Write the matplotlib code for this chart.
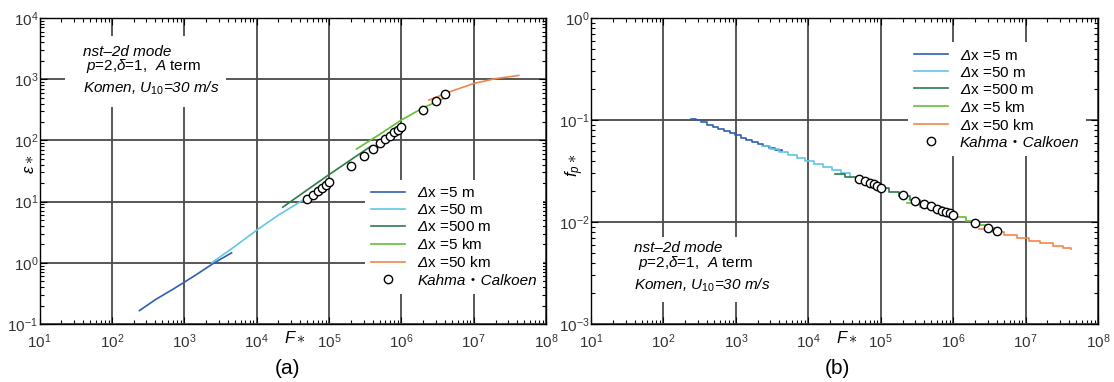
import matplotlib.pyplot as plt
from matplotlib.patches import Rectangle
from matplotlib.ticker import LogLocator, NullFormatter

plt.rcParams['font.family'] = ['Liberation Sans', 'Noto Sans CJK JP', 'DejaVu Sans']
plt.rcParams['mathtext.fontset'] = 'custom'
plt.rcParams['mathtext.rm'] = 'Liberation Sans'
plt.rcParams['mathtext.it'] = 'Liberation Sans:italic'
plt.rcParams['mathtext.bf'] = 'Liberation Sans:bold'
plt.rcParams['mathtext.sf'] = 'Liberation Sans:italic'  # para la Delta en cursiva

# Leyendas / series
etiquetas = [r'$\mathsf{\Delta}$x =5 m', r'$\mathsf{\Delta}$x =50 m', r'$\mathsf{\Delta}$x =500 m',
             r'$\mathsf{\Delta}$x =5 km', r'$\mathsf{\Delta}$x =50 km']
colores = ['#2f5fb0', '#62c6e4', '#2d7a4a', '#62bf35', '#f2864a']

# (a) energia adimensional E* vs F*
F_a = [
    [240, 400, 700, 1000, 1500, 2500, 4500],
    [2400, 5000, 10000, 20000, 45000],
    [23000, 50000, 100000, 200000, 390000],
    [240000, 500000, 1000000, 2000000, 4300000],
    [2400000, 5000000, 10000000, 20000000, 42000000],
]
E_a = [
    [0.165, 0.25, 0.37, 0.48, 0.65, 0.97, 1.45],
    [1.0, 1.85, 3.4, 6.0, 10.8],
    [8.1, 15.5, 27.5, 48, 82],
    [72, 125, 215, 340, 515],
    [455, 640, 850, 1020, 1150],
]

# (b) frecuencia de pico fp* vs F*
F_b = [
    [240, 280, 330, 400, 480, 570, 680, 820, 980, 1170, 1400, 1680, 2000, 2400, 2900, 3500, 4300],
    [2300, 3000, 4000, 5200, 7000, 9000, 12000, 16000, 21000, 28000, 38000],
    [23000, 32000, 45000, 63000, 90000, 130000, 180000, 250000, 350000, 500000, 700000, 1000000],
    [230000, 350000, 500000, 700000, 1000000, 1500000, 2200000, 3000000, 3800000],
    [2300000, 3500000, 5000000, 7500000, 11000000, 16000000, 24000000, 33000000, 42000000],
]
fp_b = [
    [0.103, 0.099, 0.095, 0.090, 0.086, 0.082, 0.078, 0.074, 0.071, 0.067, 0.064, 0.061, 0.058, 0.055, 0.053, 0.051, 0.050],
    [0.0555, 0.0520, 0.0485, 0.0455, 0.0425, 0.0400, 0.0372, 0.0348, 0.0323, 0.0300, 0.0278],
    [0.0298, 0.0275, 0.0253, 0.0233, 0.0213, 0.0195, 0.0180, 0.0165, 0.0152, 0.0139, 0.0128, 0.0117],
    [0.0154, 0.0141, 0.0130, 0.0121, 0.0112, 0.0102, 0.0094, 0.0087, 0.0083],
    [0.0086, 0.0080, 0.0075, 0.0070, 0.0065, 0.0062, 0.0058, 0.0056, 0.0054],
]

# Kahma - Calkoen
F_kc = [5e4, 6e4, 7e4, 8e4, 9e4, 1e5, 2e5, 3e5, 4e5, 5e5, 6e5, 7e5, 8e5, 9e5, 1e6, 2e6, 3e6, 4e6]
E_kc = [11.0, 12.8, 14.6, 16.5, 18.8, 21.0, 38.5, 56, 72, 89, 104, 120, 135, 148, 165, 309, 445, 577]
fp_kc = [0.0266, 0.0252, 0.0241, 0.0233, 0.0226, 0.0217, 0.0182, 0.0162, 0.0150, 0.0142,
         0.0134, 0.0129, 0.0125, 0.0121, 0.0117, 0.0097, 0.0088, 0.0081]

fig = plt.figure(figsize=(11.14, 3.82), dpi=100)
ax1 = fig.add_axes([0.0355, 0.152, 0.4547, 0.801])
ax2 = fig.add_axes([0.5305, 0.152, 0.4552, 0.801])


def estilo(ax, ylim):
    ax.set_xscale('log')
    ax.set_yscale('log')
    ax.set_xlim(1e1, 1e8)
    ax.set_ylim(*ylim)
    ax.xaxis.set_major_locator(LogLocator(base=10, numticks=20))
    ax.yaxis.set_major_locator(LogLocator(base=10, numticks=20))
    ax.xaxis.set_minor_locator(LogLocator(base=10, subs=range(2, 10), numticks=20))
    ax.yaxis.set_minor_locator(LogLocator(base=10, subs=range(2, 10), numticks=20))
    ax.xaxis.set_minor_formatter(NullFormatter())
    ax.yaxis.set_minor_formatter(NullFormatter())
    ax.grid(True, which='major', color='#4a4a4a', lw=1.3)
    ax.tick_params(which='both', direction='in', top=True, right=True, labelsize=11,
                   labelcolor='#333333', width=0.8)
    ax.tick_params(which='major', length=5)
    ax.tick_params(which='minor', length=3)
    ax.tick_params(axis='x', pad=6)
    ax.tick_params(axis='y', pad=1)
    for s in ax.spines.values():
        s.set_linewidth(1.0)
        s.set_zorder(5)


estilo(ax1, (1e-1, 1e4))
estilo(ax2, (1e-3, 1e0))

for i in range(5):
    ax1.plot(F_a[i], E_a[i], color=colores[i], lw=1.2, label=etiquetas[i], zorder=3)
    ax2.plot(F_b[i], fp_b[i], color=colores[i], lw=1.2, label=etiquetas[i],
             drawstyle='steps-post', zorder=3)
ax1.plot(F_kc, E_kc, 'o', mfc='white', mec='black', mew=1.0, ms=6, label='Kahma・Calkoen', zorder=4)
ax2.plot(F_kc, fp_kc, 'o', mfc='white', mec='black', mew=1.0, ms=6, label='Kahma・Calkoen', zorder=4)

for ax, pos in [(ax1, (0.643, 0.47)), (ax2, (0.625, 0.92))]:
    leg = ax.legend(loc='upper left', bbox_to_anchor=pos, borderaxespad=0, borderpad=0.4,
                    fontsize=11, frameon=True, fancybox=False, handlelength=2.2,
                    handletextpad=0.8, labelspacing=0.2)
    leg.get_frame().set_facecolor('white')
    leg.get_frame().set_edgecolor('none')
    leg.get_frame().set_alpha(1)
    leg.set_zorder(6)
    leg.get_texts()[-1].set_fontstyle('italic')

# bloques de texto con fondo blanco
for ax, ys, caja in [(ax1, (0.889, 0.843, 0.771), (0.05, 0.709, 0.318, 0.232)),
                     (ax2, (0.248, 0.198, 0.127), (0.05, 0.073, 0.32, 0.212))]:
    ax.add_patch(Rectangle(caja[:2], caja[2], caja[3], transform=ax.transAxes,
                           facecolor='white', edgecolor='none', zorder=2.5))
    ax.text(0.085, ys[0], 'nst–2d mode', transform=ax.transAxes, fontsize=11, style='italic',
            va='center', ha='left', zorder=6)
    ax.text(0.092, ys[1], r'$p$=2,$\delta$=1,  $A$ term', transform=ax.transAxes,
            fontsize=11, va='center', ha='left', zorder=6)
    ax.text(0.085, ys[2], r'Komen, $U_{\mathit{10}}$=30 m/s', transform=ax.transAxes,
            fontsize=11, style='italic', va='center', ha='left', zorder=6)

ax1.text(-0.019, 0.52, r'$\varepsilon\ast$', transform=ax1.transAxes, rotation=90,
         fontsize=12, ha='center', va='center')
ax2.text(-0.032, 0.52, r'$f_p\ast$', transform=ax2.transAxes, rotation=90,
         fontsize=12, ha='center', va='center')
for ax in (ax1, ax2):
    ax.annotate(r'$F\ast$', xy=(0.504, 0), xycoords='axes fraction', xytext=(0, -10),
                textcoords='offset points', ha='center', va='center', fontsize=12)

fig.text(0.258, 0.035, '(a)', ha='center', va='center', fontsize=15)
fig.text(0.752, 0.035, '(b)', ha='center', va='center', fontsize=15)

fig.savefig('out.png', dpi=100)
